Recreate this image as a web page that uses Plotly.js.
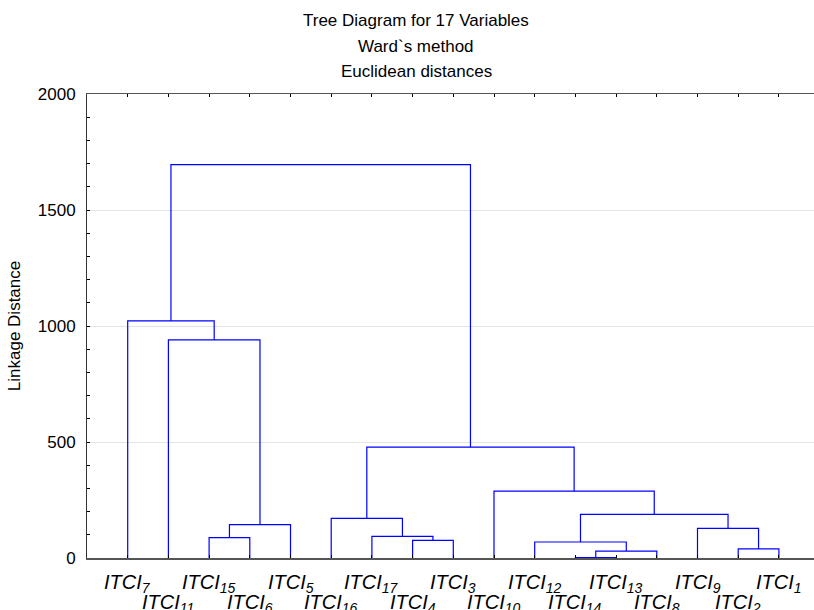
<!DOCTYPE html>
<html>
<head>
<meta charset="utf-8">
<script src="https://cdn.plot.ly/plotly-3.0.1.min.js"></script>
<style>html,body{margin:0;padding:0;background:#fff;}#chart{width:814px;height:610px;}</style>
</head>
<body>
<div id="chart"></div>
<script>
// Leaf labels in dendrogram order (left to right)
const leafNames = ["7","11","15","6","5","16","17","4","3","10","12","14","13","8","9","2","1"];
// Linkage: node ids 0..16 are leaves (by position), new clusters numbered from 17 upward
const mergeLeft   = [11, 17, 15, 10, 7, 2, 6, 14, 22, 5, 20, 9, 26, 1, 0, 31];
const mergeRight  = [12, 13, 16, 18, 8, 3, 21, 19, 4, 23, 24, 27, 28, 25, 30, 29];
const mergeHeight = [2, 30, 39, 69, 76, 88, 93, 128, 144, 171, 188, 288, 478, 940, 1022, 1696];
const yTickVals = [0, 500, 1000, 1500, 2000];
const titleLines = ["Tree Diagram for 17 Variables", "Ward`s method", "Euclidean distances"];
const yTitle = "Linkage Distance";

const nLeaf = leafNames.length;
const nodeX = [], nodeH = [];
for (let i = 0; i < nLeaf; i++) { nodeX.push(i + 1); nodeH.push(0); }
const xs = [], ys = [];
for (let k = 0; k < mergeLeft.length; k++) {
  const a = mergeLeft[k], b = mergeRight[k], h = mergeHeight[k];
  xs.push(nodeX[a], nodeX[a], nodeX[b], nodeX[b], null);
  ys.push(nodeH[a], h, h, nodeH[b], null);
  nodeX.push((nodeX[a] + nodeX[b]) / 2);
  nodeH.push(h);
}

const FONT = "Arial, 'Liberation Sans', sans-serif";
const L = 87, R = 0, T = 94, B = 52, W = 814, H = 610;
const plotH = H - T - B, plotW = W - L - R;
const py = (pix) => (H - B - pix) / plotH;
const px = (pix) => (pix - L) / plotW;

const annotations = [];
const titleY = [21, 46, 71];
titleLines.forEach((t, i) => annotations.push({
  text: t, xref: "paper", yref: "paper", x: px(416), y: py(titleY[i]),
  xanchor: "center", yanchor: "middle", showarrow: false,
  font: {family: FONT, size: 17, color: "#000"}
}));
leafNames.forEach((n, i) => annotations.push({
  text: "<i>ITCI<sub>" + n + "</sub></i>", xref: "x", yref: "paper",
  x: i + 1, y: py(i % 2 === 0 ? 569 : 589), xanchor: "center", yanchor: "top",
  showarrow: false, font: {family: FONT, size: 20, color: "#000"}
}));

const data = [{
  x: xs, y: ys, type: "scatter", mode: "lines",
  line: {color: "#0000ff", width: 1.2}, hoverinfo: "skip", connectgaps: false
}];

const layout = {
  width: W, height: H,
  margin: {l: L, r: R, t: T, b: B, pad: 0},
  paper_bgcolor: "#fff", plot_bgcolor: "#fff",
  showlegend: false, hovermode: false,
  font: {family: FONT, color: "#000"},
  xaxis: {
    range: [0, plotW / 40.7], tickvals: leafNames.map((_, i) => i + 1),
    showticklabels: false, ticks: "inside", ticklen: 3, tickcolor: "#000",
    showline: true, linecolor: "#555", linewidth: 1.5, mirror: "allticks",
    showgrid: false, zeroline: false, fixedrange: true
  },
  yaxis: {
    range: [0, 2000], tickvals: yTickVals, ticktext: yTickVals.map(String),
    ticks: "inside", ticklen: 3, tickcolor: "#000",
    minor: {dtick: 100, ticks: "inside", ticklen: 3, tickcolor: "#000", showgrid: false},
    showline: true, linecolor: "#333", linewidth: 1,
    showgrid: true, gridcolor: "#e4e4e4", gridwidth: 1, zeroline: false,
    tickfont: {family: FONT, size: 17, color: "#000"}, ticklabelstandoff: 7,
    title: {text: yTitle, font: {family: FONT, size: 17, color: "#000"}, standoff: 12},
    fixedrange: true
  },
  annotations: annotations
};

Plotly.newPlot("chart", data, layout, {displayModeBar: false, staticPlot: true});
</script>
</body>
</html>
